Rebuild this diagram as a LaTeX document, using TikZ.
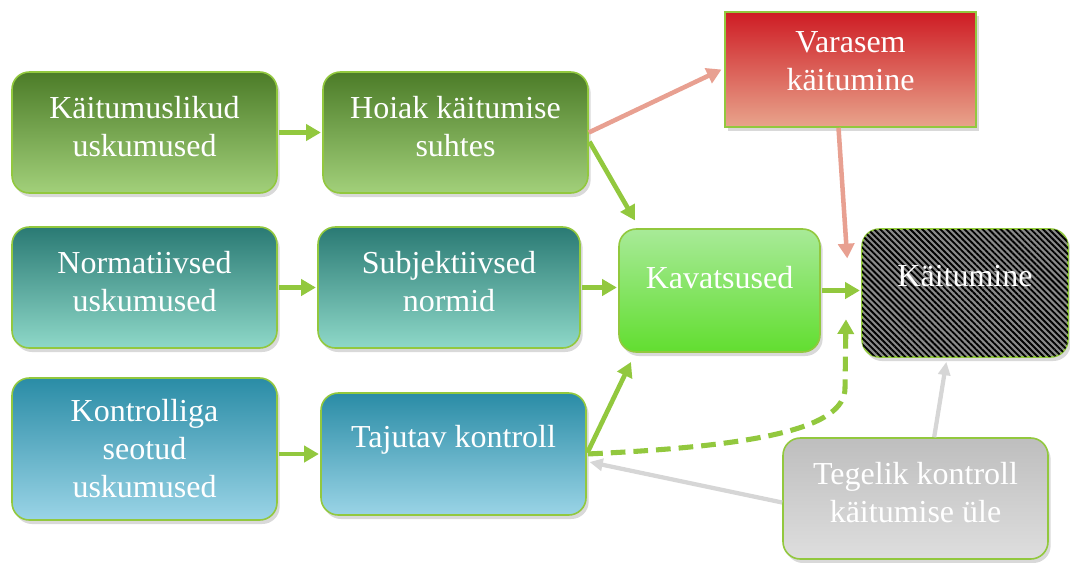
\documentclass[tikz,border=0pt]{standalone}
\usepackage{fontspec}
\setmainfont{Liberation Serif}
\usetikzlibrary{positioning,shadows,arrows.meta,patterns.meta}

\definecolor{rim}{RGB}{146,200,62}
\definecolor{leafTop}{RGB}{76,124,40}
\definecolor{leafBot}{RGB}{162,208,122}
\definecolor{tealTop}{RGB}{42,122,116}
\definecolor{tealBot}{RGB}{142,216,200}
\definecolor{skyTop}{RGB}{42,140,166}
\definecolor{skyBot}{RGB}{154,212,230}
\definecolor{limeTop}{RGB}{168,234,152}
\definecolor{limeBot}{RGB}{98,222,48}
\definecolor{redTop}{RGB}{206,28,36}
\definecolor{redBot}{RGB}{232,164,140}
\definecolor{greyTop}{RGB}{190,190,190}
\definecolor{greyBot}{RGB}{222,222,222}
\definecolor{hatch}{RGB}{138,138,138}
\definecolor{salmon}{RGB}{232,160,145}
\definecolor{pale}{RGB}{214,214,214}

\newcommand{\sink}[1]{\rule[-#1]{0pt}{#1}}

\tikzset{
  box/.style={draw=rim, line width=1.2pt, rounded corners=13pt, text=white,
    align=center, inner sep=0pt, font=\fontsize{24}{28.5}\selectfont,
    drop shadow={shadow xshift=2pt, shadow yshift=-3pt, opacity=0.3}},
  leaf/.style={top color=leafTop, bottom color=leafBot},
  sea/.style={top color=tealTop, bottom color=tealBot},
  sky/.style={top color=skyTop, bottom color=skyBot},
  lime/.style={top color=limeTop, bottom color=limeBot},
  wide/.style={minimum width=198.75pt, minimum height=90.75pt},
  garrow/.style={-{Triangle[length=11pt,width=12pt]}, line width=3.5pt, draw=rim,
    shorten <=1pt, shorten >=1pt},
  rarrow/.style={-{Triangle[length=11pt,width=12pt]}, line width=3.4pt, draw=salmon},
  parrow/.style={-{Triangle[length=10pt,width=9pt]}, line width=3.2pt, draw=pale},
}

\begin{document}
\begin{tikzpicture}[x=0.75pt, y=-0.75pt]
  \useasboundingbox (0,0) rectangle (1070,562);

  \node[box, leaf, wide] (kbel)  at (144.5,132.5) {Käitumuslikud\\uskumused\sink{9pt}};
  \node[box, leaf, wide] (hoiak) at (455.5,132.5) {Hoiak käitumise\\suhtes\sink{9pt}};
  \node[box, sea, wide]  (nbel)  at (144.5,287.5) {Normatiivsed\\uskumused\sink{9pt}};
  \node[box, sea, wide, minimum width=196.5pt] (subj) at (449,287.5) {Subjektiivsed\\normid\sink{9pt}};
  \node[box, sky, wide, minimum height=106.5pt] (cbel) at (144.5,449) {Kontrolliga\\seotud\\uskumused};
  \node[box, sky, wide, minimum height=91.5pt] (taju) at (453.5,454) {Tajutav kontroll\sink{26pt}};
  \node[box, lime, minimum width=150.75pt, minimum height=92.25pt] (kava) at (719.5,290.5) {Kavatsused\sink{20pt}};
  \node[box, fill=hatch, minimum width=154.5pt, minimum height=96pt,
        postaction={pattern={Lines[angle=-45,distance=3.2pt,line width=1.4pt]}, pattern color=black}]
        (kait) at (965,293) {Käitumine\sink{25pt}};
  \node[box, rounded corners=0pt, top color=redTop, bottom color=redBot,
        minimum width=188.25pt, minimum height=86.25pt] (vara) at (850.5,69.5) {Varasem\\käitumine\sink{13pt}};
  \node[box, top color=greyTop, bottom color=greyBot, wide] (tege) at (915.5,498.5) {Tegelik kontroll\\käitumise üle\sink{9pt}};

  \coordinate (dtip) at (846,318);

  % beliefs to attitudes
  \draw[garrow] (kbel) -- (hoiak);
  \draw[garrow] (nbel) -- (subj);
  \draw[garrow] (cbel.east |- taju) -- (taju);
  % attitudes to intention
  \draw[garrow] ([yshift=-6pt]hoiak.east) -- ([xshift=13pt,yshift=5pt]kava.north west);
  \draw[garrow] (subj) -- (subj -| kava.west);
  \draw[garrow] (taju.east) -- ([xshift=10pt,yshift=-6pt]kava.south west);
  \draw[garrow] (kava.east) -- (kava.east -| kait.west);
  \draw[garrow, dash pattern=on 11pt off 6pt, line width=3.8pt]
    (taju.east) .. controls (760,446) and (845,428) .. (845,388) -- (dtip);
  % past behaviour
  \draw[rarrow] (hoiak.east) -- ([xshift=-2pt]vara.west);
  \draw[rarrow] ([xshift=-9pt]vara.south) -- ([xshift=-10.5pt,yshift=26pt]kait.west);
  % actual control
  \draw[parrow] ([xshift=14pt]tege.north) -- ([xshift=-14pt,yshift=-3pt]kait.south);
  \draw[parrow] ([yshift=-3pt]tege.west) -- ([xshift=2pt,yshift=-6pt]taju.east);
\end{tikzpicture}
\end{document}
